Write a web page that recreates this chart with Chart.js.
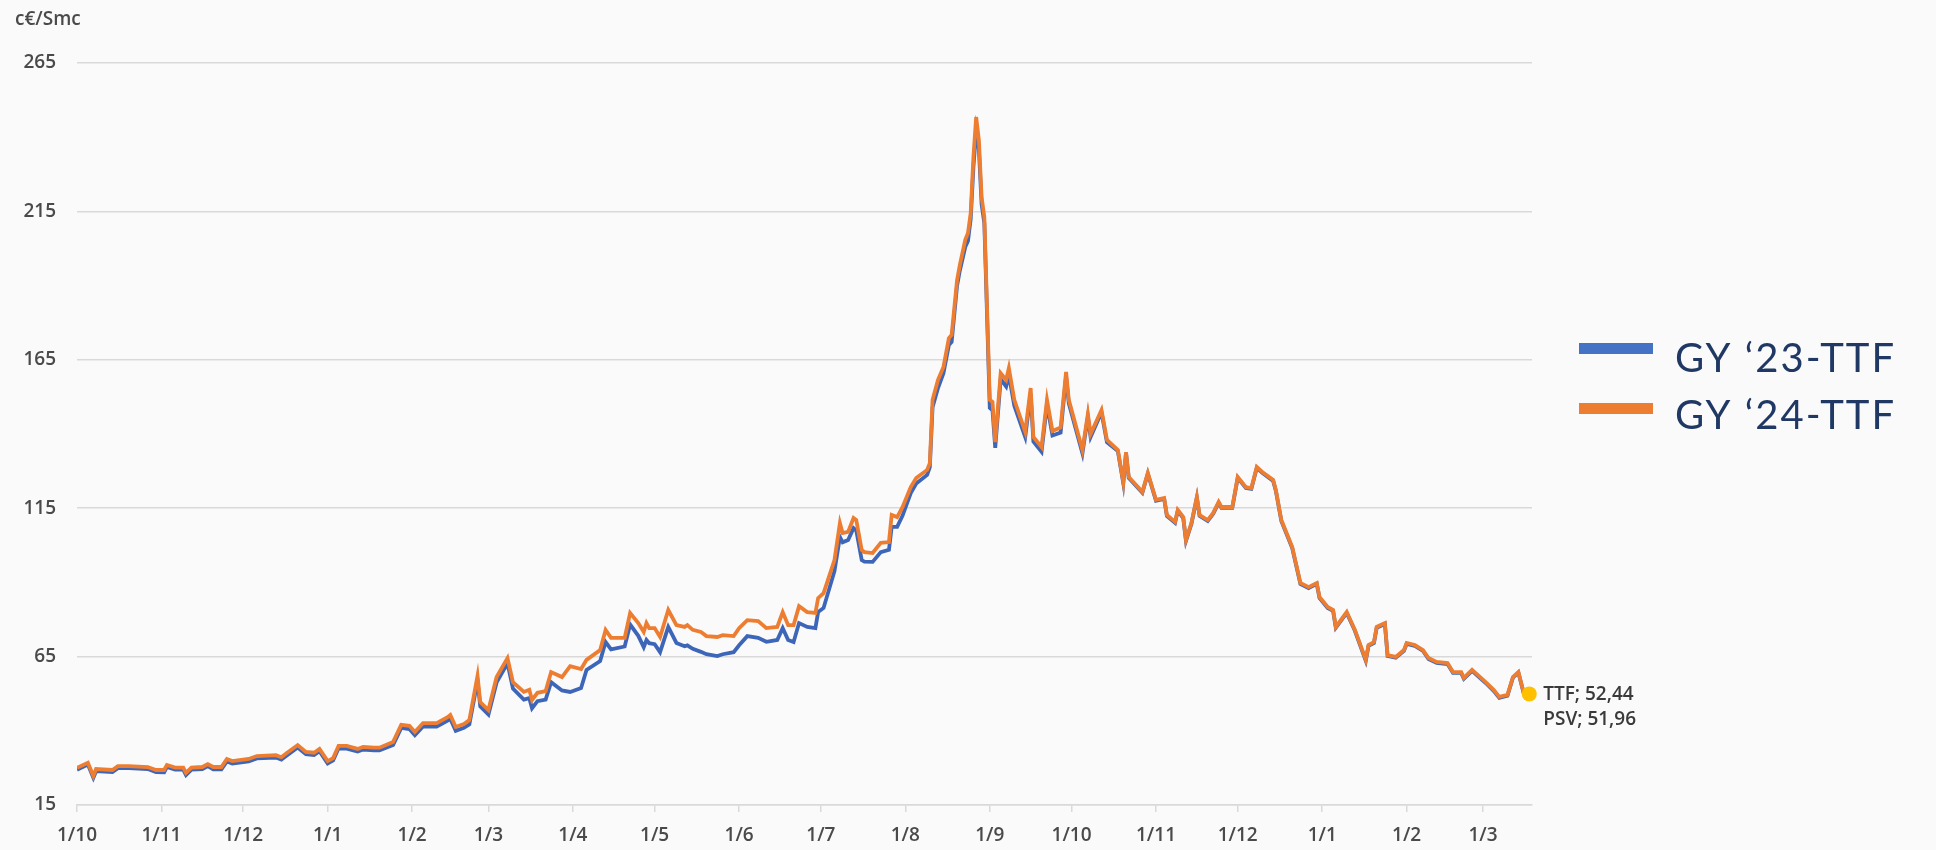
<!DOCTYPE html>
<html>
<head>
<meta charset="utf-8">
<title>GY TTF</title>
<script src="https://cdn.jsdelivr.net/npm/chart.js"></script>
<style>
  html, body { margin: 0; padding: 0; background: #fafafa; }
  #wrap { position: relative; width: 1936px; height: 850px; }
</style>
</head>
<body>
<div id="wrap"><canvas id="gas-chart"></canvas></div>
<script>
// GY '23 / GY '24 TTF forward prices (c€/Smc)

const dates = [
  '2021-10-01','2021-10-05','2021-10-07','2021-10-08','2021-10-14','2021-10-16','2021-10-20','2021-10-27','2021-10-30',
  '2021-11-02','2021-11-03','2021-11-06','2021-11-09','2021-11-10','2021-11-12','2021-11-16','2021-11-18','2021-11-20','2021-11-23','2021-11-25','2021-11-27',
  '2021-12-03','2021-12-06','2021-12-13','2021-12-15','2021-12-17','2021-12-21','2021-12-24','2021-12-27','2021-12-29',
  '2022-01-01','2022-01-03','2022-01-05','2022-01-08','2022-01-12','2022-01-14','2022-01-18','2022-01-20','2022-01-25','2022-01-28','2022-01-31',
  '2022-02-02','2022-02-05','2022-02-10','2022-02-14','2022-02-15','2022-02-17','2022-02-20','2022-02-22','2022-02-25','2022-02-26',
  '2022-03-01','2022-03-04','2022-03-08','2022-03-10','2022-03-14','2022-03-16','2022-03-17','2022-03-19','2022-03-22','2022-03-24','2022-03-28','2022-03-31',
  '2022-04-04','2022-04-06','2022-04-11','2022-04-13','2022-04-15','2022-04-20','2022-04-22','2022-04-25','2022-04-27','2022-04-28','2022-04-29',
  '2022-05-01','2022-05-03','2022-05-06','2022-05-09','2022-05-12','2022-05-13','2022-05-15','2022-05-18','2022-05-20','2022-05-24','2022-05-26','2022-05-30',
  '2022-06-01','2022-06-04','2022-06-08','2022-06-11','2022-06-15','2022-06-17','2022-06-19','2022-06-21','2022-06-23','2022-06-26','2022-06-29','2022-06-30',
  '2022-07-02','2022-07-06','2022-07-08','2022-07-09','2022-07-11','2022-07-13','2022-07-14','2022-07-16','2022-07-17','2022-07-20','2022-07-23','2022-07-26','2022-07-27','2022-07-29','2022-07-31',
  '2022-08-03','2022-08-05','2022-08-09','2022-08-10','2022-08-11','2022-08-13','2022-08-15','2022-08-17','2022-08-18','2022-08-20','2022-08-21','2022-08-23','2022-08-24','2022-08-25','2022-08-26','2022-08-27','2022-08-28','2022-08-29','2022-08-30',
  '2022-09-01','2022-09-02','2022-09-03','2022-09-05','2022-09-07','2022-09-08','2022-09-10','2022-09-14','2022-09-16','2022-09-17','2022-09-20','2022-09-22','2022-09-24','2022-09-27','2022-09-29','2022-09-30',
  '2022-10-05','2022-10-07','2022-10-08','2022-10-12','2022-10-14','2022-10-18','2022-10-20','2022-10-21','2022-10-22','2022-10-27','2022-10-29',
  '2022-11-01','2022-11-04','2022-11-05','2022-11-08','2022-11-09','2022-11-11','2022-11-12','2022-11-14','2022-11-16','2022-11-17','2022-11-20','2022-11-22','2022-11-24','2022-11-25','2022-11-29',
  '2022-12-01','2022-12-04','2022-12-06','2022-12-08','2022-12-10','2022-12-14','2022-12-15','2022-12-17','2022-12-21','2022-12-24','2022-12-27','2022-12-30','2022-12-31',
  '2023-01-03','2023-01-05','2023-01-06','2023-01-10','2023-01-13','2023-01-17','2023-01-18','2023-01-20','2023-01-21','2023-01-24','2023-01-25','2023-01-28','2023-01-31',
  '2023-02-01','2023-02-04','2023-02-07','2023-02-09','2023-02-12','2023-02-16','2023-02-18','2023-02-21','2023-02-22','2023-02-25',
  '2023-03-02','2023-03-05','2023-03-07','2023-03-10','2023-03-12','2023-03-14','2023-03-16','2023-03-18'
];

// GY '23 (blue)
const gy23 = [
  26.9, 28.6, 24.2, 26.4, 26.1, 27.4, 27.4, 27.1, 26.1,
  26.0, 27.8, 26.9, 26.9, 25.1, 26.9, 27.1, 28.1, 27.0, 27.0, 29.7, 29.0,
  29.7, 30.7, 31.0, 30.3, 31.7, 34.4, 32.1, 31.8, 33.1,
  29.0, 30.0, 34.1, 34.0, 33.0, 33.7, 33.4, 33.4, 35.2, 41.0, 40.6,
  38.5, 41.5, 41.4, 43.4, 44.1, 40.0, 41.0, 42.2, 56.8, 48.2,
  45.5, 56.3, 62.7, 54.2, 50.5, 51.0, 47.6, 50.0, 50.5, 56.4, 53.6, 53.1,
  54.4, 60.5, 63.5, 69.9, 67.4, 68.4, 75.8, 72.0, 68.2, 70.6, 69.5,
  69.2, 66.5, 75.0, 69.6, 68.5, 68.8, 67.6, 66.6, 65.8, 65.2, 65.8, 66.5,
  68.8, 71.9, 71.3, 70.0, 70.6, 74.6, 70.6, 69.9, 76.3, 75.0, 74.6, 80.0,
  81.4, 93.8, 105.3, 103.5, 104.3, 108.3, 107.5, 97.5, 97.0, 96.9, 100.2, 101.0, 108.7, 108.7, 112.5,
  120.1, 123.3, 126.2, 128.8, 149.0, 155.5, 160.5, 170.0, 171.0, 190.0, 195.0, 203.0, 205.0, 212.5, 230.0, 242.0, 236.0, 217.5, 211.0,
  148.8, 148.0, 135.3, 158.5, 156.0, 160.0, 149.5, 139.0, 153.5, 137.5, 134.0, 150.0, 139.5, 140.5, 159.5, 150.3,
  133.5, 145.8, 139.0, 147.3, 137.2, 134.3, 123.4, 133.6, 125.2, 120.2, 126.6,
  117.5, 118.1, 112.4, 110.1, 114.1, 111.7, 104.0, 109.7, 118.5, 112.4, 110.7, 113.1, 116.8, 115.1, 115.1,
  125.2, 121.8, 121.5, 128.6, 126.9, 124.2, 120.8, 110.7, 101.6, 89.5, 88.1, 89.5, 84.8,
  81.4, 80.4, 74.7, 79.7, 73.7, 63.6, 68.6, 69.6, 74.7, 76.0, 65.2, 64.6, 66.9,
  69.3, 68.6, 66.9, 64.2, 62.9, 62.5, 59.5, 59.5, 57.5, 60.2,
  56.1, 53.4, 51.1, 51.8, 57.9, 59.6, 52.5, 52.2
];

// GY '24 (orange)
const gy24 = [
  27.5, 29.2, 24.8, 27.1, 26.8, 28.1, 28.1, 27.8, 26.8,
  26.8, 28.5, 27.6, 27.6, 25.8, 27.6, 27.8, 28.8, 27.8, 27.8, 30.5, 29.8,
  30.5, 31.5, 31.8, 31.1, 32.5, 35.2, 32.9, 32.6, 33.9,
  29.8, 30.8, 34.9, 34.9, 33.9, 34.6, 34.3, 34.3, 36.2, 42.0, 41.7,
  39.6, 42.6, 42.6, 44.6, 45.3, 41.3, 42.3, 43.6, 58.5, 49.7,
  47.0, 58.1, 64.5, 56.4, 53.1, 53.8, 50.4, 52.8, 53.4, 59.8, 58.1, 61.8,
  60.8, 63.9, 67.2, 74.0, 71.3, 71.3, 79.7, 76.3, 73.3, 76.3, 74.6,
  74.6, 71.6, 80.7, 75.6, 75.0, 75.6, 74.0, 73.3, 71.9, 71.6, 72.2, 71.9,
  74.6, 77.3, 77.0, 74.6, 75.0, 80.0, 75.6, 75.6, 82.0, 80.0, 79.7, 84.7,
  86.4, 97.5, 110.0, 106.6, 107.0, 111.7, 111.0, 100.9, 100.2, 99.9, 103.3, 103.6, 112.7, 112.0, 115.4,
  122.1, 125.2, 127.9, 130.2, 151.5, 158.2, 162.6, 172.3, 173.4, 191.9, 196.9, 205.4, 207.7, 214.5, 233.3, 246.8, 239.0, 219.8, 213.1,
  151.5, 150.8, 137.3, 160.5, 158.2, 162.2, 151.5, 140.7, 155.5, 139.0, 135.6, 151.5, 141.0, 142.2, 160.9, 151.5,
  134.6, 146.7, 140.0, 148.1, 138.0, 134.6, 123.8, 133.9, 125.5, 120.5, 126.9,
  117.8, 118.4, 112.7, 110.4, 114.4, 112.0, 104.3, 110.0, 118.8, 112.7, 111.0, 113.4, 117.1, 115.4, 115.4,
  125.5, 122.1, 121.8, 128.9, 127.2, 124.5, 121.1, 111.0, 101.9, 89.8, 88.4, 89.8, 85.1,
  81.7, 80.7, 75.0, 80.0, 74.0, 63.9, 68.9, 69.9, 75.0, 76.3, 65.5, 64.9, 67.2,
  69.6, 68.9, 67.2, 64.5, 63.2, 62.8, 59.8, 59.8, 57.8, 60.5,
  56.4, 53.7, 51.4, 52.1, 58.1, 59.8, 52.7, 52.4
];

const tickDates = [
  '2021-10-01','2021-11-01','2021-12-01','2022-01-01','2022-02-01','2022-03-01',
  '2022-04-01','2022-05-01','2022-06-01','2022-07-01','2022-08-01','2022-09-01',
  '2022-10-01','2022-11-01','2022-12-01','2023-01-01','2023-02-01','2023-03-01'
];
const tickLabels = ['1/10','1/11','1/12','1/1','1/2','1/3','1/4','1/5','1/6','1/7','1/8','1/9','1/10','1/11','1/12','1/1','1/2','1/3'];
const yTicks = [15, 65, 115, 165, 215, 265];
const xEnd = '2023-03-19';

const seriesNames = ['GY \u201823-TTF', 'GY \u201824-TTF'];
const seriesColors = ['#3d66b8', '#ED7D31'];
const legendColors = ['#4472C4', '#ED7D31'];

const spotDate = '2023-03-18';
const spotTTF = 52.44;
const spotPSV = 51.96;

const DAY0 = Date.parse(dates[0]);
const dayOf = d => (Date.parse(d) - DAY0) / 86400000;
const fmt = v => v.toFixed(2).replace('.', ',');

Chart.defaults.font.family = "'Open Sans', sans-serif";
Chart.defaults.font.size = 19;
Chart.defaults.font.weight = '600';
Chart.defaults.color = '#4a4a4a';

// unit label, spot label and the legend on the right
const overlay = {
  id: 'overlay',
  afterDraw(chart) {
    const ctx = chart.ctx;
    ctx.save();
    ctx.textAlign = 'left';
    ctx.textBaseline = 'alphabetic';

    ctx.font = "600 19px 'Open Sans'";
    ctx.fillStyle = '#4a4a4a';
    ctx.fillText('c\u20ac/Smc', 15, 25);

    const px = chart.scales.x.getPixelForValue(dayOf(spotDate));
    const py = chart.scales.y.getPixelForValue(spotTTF);
    ctx.fillStyle = '#3a3a3a';
    ctx.fillText('TTF; ' + fmt(spotTTF), px + 14, py + 6);
    ctx.fillText('PSV; ' + fmt(spotPSV), px + 14, py + 31);

    const rows = [{ bar: 343, base: 372 }, { bar: 403, base: 429 }];
    ctx.font = "40px Lato";
    if ('letterSpacing' in ctx) ctx.letterSpacing = '2px';
    rows.forEach((r, i) => {
      ctx.fillStyle = legendColors[i];
      ctx.fillRect(1579, r.bar, 74, 11);
      ctx.fillStyle = '#1F3864';
      ctx.fillText(seriesNames[i], 1675, r.base);
    });
    ctx.restore();
  }
};

new Chart(document.getElementById('gas-chart'), {
  type: 'line',
  data: {
    datasets: [
      {
        label: seriesNames[1],
        data: dates.map((d, i) => ({ x: dayOf(d), y: gy24[i] })),
        borderColor: seriesColors[1],
        borderWidth: 3.8,
        pointRadius: 0,
        order: 1
      },
      {
        label: seriesNames[0],
        data: dates.map((d, i) => ({ x: dayOf(d), y: gy23[i] })),
        borderColor: seriesColors[0],
        borderWidth: 3.8,
        pointRadius: 0,
        order: 2
      },
      {
        label: 'TTF',
        data: [{ x: dayOf(spotDate), y: spotTTF }],
        showLine: false,
        pointRadius: 7.5,
        pointBackgroundColor: '#FFC000',
        pointBorderColor: '#FFC000',
        pointBorderWidth: 0,
        clip: false,
        order: 0
      }
    ]
  },
  options: {
    responsive: true,
    maintainAspectRatio: false,
    animation: false,
    layout: { padding: { left: 0, right: 404, top: 63, bottom: 0 } },
    plugins: {
      legend: { display: false },
      tooltip: { enabled: false }
    },
    scales: {
      x: {
        type: 'linear',
        min: 0,
        max: dayOf(xEnd),
        afterBuildTicks: s => { s.ticks = tickDates.map(d => ({ value: dayOf(d) })); },
        afterFit: s => { s.height = 45; },
        grid: { drawOnChartArea: false, drawTicks: true, tickLength: 7, color: '#d9d9d9', lineWidth: 1.5 },
        border: { display: true, color: '#d9d9d9', width: 1.5 },
        ticks: { autoSkip: false, maxRotation: 0, padding: 12, callback: (v, i) => tickLabels[i] }
      },
      y: {
        min: 15,
        max: 265,
        afterBuildTicks: s => { s.ticks = yTicks.map(v => ({ value: v })); },
        afterFit: s => { s.width = 77; },
        grid: { color: '#d9d9d9', lineWidth: 1.5, drawTicks: false },
        border: { display: false },
        ticks: { padding: 21 }
      }
    }
  },
  plugins: [overlay]
});
</script>
</body>
</html>
